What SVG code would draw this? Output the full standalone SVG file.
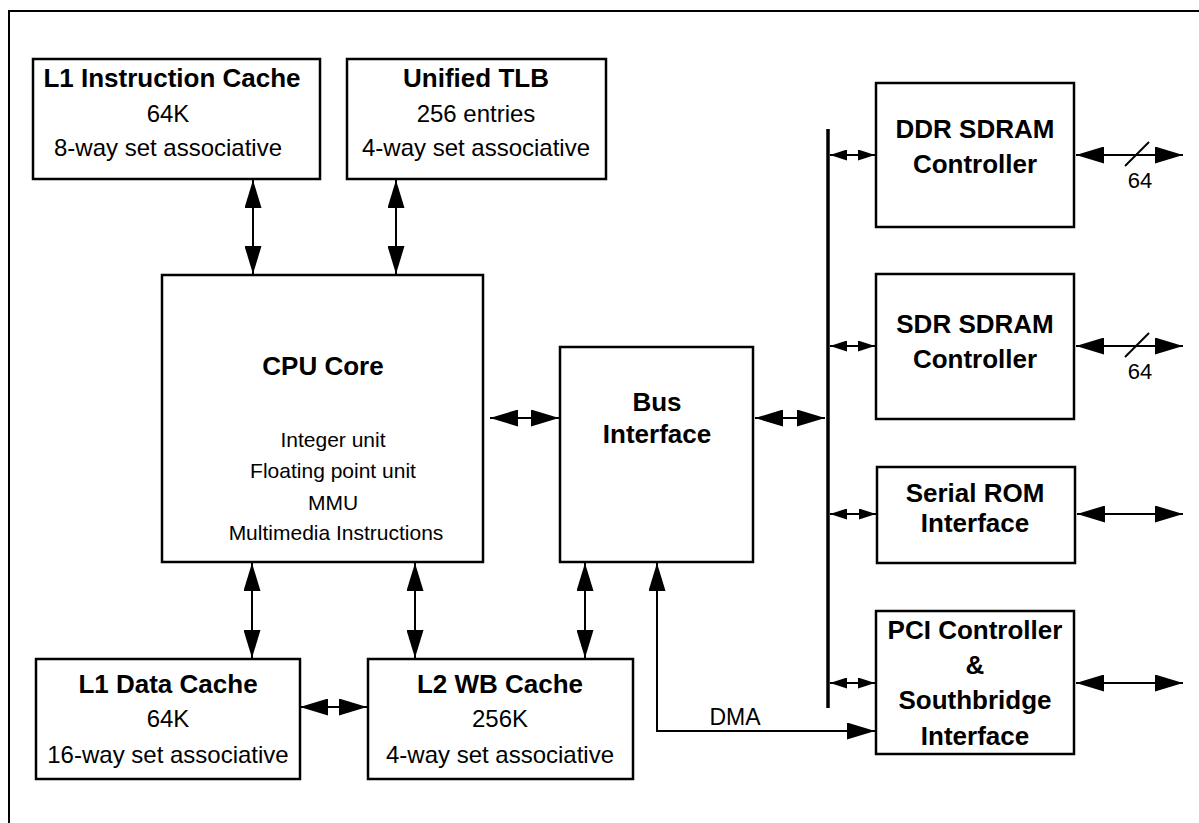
<svg xmlns="http://www.w3.org/2000/svg" width="1199" height="823" viewBox="0 0 1199 823">
<defs>
<style>
.box{fill:#fff;stroke:#000;stroke-width:2.5}
.t{font-family:"Liberation Sans",Arial,sans-serif;font-weight:bold;font-size:26px;text-anchor:middle;fill:#000}
.s{font-family:"Liberation Sans",Arial,sans-serif;font-size:24px;text-anchor:middle;fill:#000}
.c{font-family:"Liberation Sans",Arial,sans-serif;font-size:21px;text-anchor:middle;fill:#000}
.ln{fill:none;stroke:#000;stroke-width:2}
.big{marker-start:url(#ah);marker-end:url(#ah)}
.sm{marker-start:url(#as);marker-end:url(#as)}
</style>
<marker id="ah" viewBox="0 0 28 17" refX="28" refY="8.5" markerWidth="28" markerHeight="17" markerUnits="userSpaceOnUse" orient="auto-start-reverse"><path d="M0,0 L28,8.5 L0,17 z" fill="#000"/></marker>
<marker id="as" viewBox="0 0 17 11" refX="17" refY="5.5" markerWidth="17" markerHeight="11" markerUnits="userSpaceOnUse" orient="auto-start-reverse"><path d="M0,0 L17,5.5 L0,11 z" fill="#000"/></marker>
</defs>
<rect x="0" y="0" width="1199" height="823" fill="#fff"/>
<rect x="9" y="11" width="1200" height="830" fill="none" stroke="#000" stroke-width="2"/>

<g id="connectors">
<line class="ln big" x1="253" y1="180" x2="253" y2="274"/>
<line class="ln big" x1="396" y1="180" x2="396" y2="274"/>
<line class="ln big" x1="252" y1="563" x2="252" y2="658"/>
<line class="ln big" x1="415" y1="563" x2="415" y2="658"/>
<line class="ln big" x1="490" y1="418" x2="559" y2="418"/>
<line class="ln big" x1="755" y1="418" x2="825" y2="418"/>
<line class="ln big" x1="300" y1="707" x2="367" y2="707"/>
<line class="ln big" x1="585" y1="563" x2="585" y2="658"/>
<polyline class="ln" points="657,563 657,731 875,731" marker-start="url(#ah)" marker-end="url(#ah)"/>
<line x1="828" y1="129" x2="828" y2="708" stroke="#000" stroke-width="3.5"/>
<line class="ln sm" x1="830" y1="155" x2="875" y2="155"/>
<line class="ln sm" x1="830" y1="346" x2="875" y2="346"/>
<line class="ln sm" x1="830" y1="514" x2="876" y2="514"/>
<line class="ln sm" x1="830" y1="683" x2="875" y2="683"/>
<line class="ln big" x1="1076" y1="155" x2="1183" y2="155"/>
<line class="ln big" x1="1076" y1="346" x2="1183" y2="346"/>
<line class="ln big" x1="1077" y1="514" x2="1183" y2="514"/>
<line class="ln big" x1="1076" y1="683" x2="1183" y2="683"/>
<line class="ln" x1="1125" y1="166" x2="1149" y2="142" stroke-width="1.5"/>
<line class="ln" x1="1125" y1="357" x2="1149" y2="333" stroke-width="1.5"/>
<text class="s" x="1140" y="188" style="font-size:22px">64</text>
<text class="s" x="1140" y="379" style="font-size:22px">64</text>
<text class="s" x="735" y="725" style="font-size:23px">DMA</text>
</g>

<g id="l1ic">
<rect class="box" x="33" y="59" width="287" height="120"/>
<text class="t" x="172" y="87">L1 Instruction Cache</text>
<text class="s" x="168" y="122">64K</text>
<text class="s" x="168" y="156">8-way set associative</text>
</g>
<g id="tlb">
<rect class="box" x="347" y="59" width="259" height="120"/>
<text class="t" x="476" y="87">Unified TLB</text>
<text class="s" x="476" y="122">256 entries</text>
<text class="s" x="476" y="156">4-way set associative</text>
</g>
<g id="cpu">
<rect class="box" x="162" y="275" width="321" height="287"/>
<text class="t" x="323" y="375">CPU Core</text>
<text class="c" x="333" y="447">Integer unit</text>
<text class="c" x="333" y="478">Floating point unit</text>
<text class="c" x="333" y="510">MMU</text>
<text class="c" x="336" y="540">Multimedia Instructions</text>
</g>
<g id="bus">
<rect class="box" x="560" y="347" width="193" height="215"/>
<text class="t" x="657" y="411">Bus</text>
<text class="t" x="657" y="443">Interface</text>
</g>
<g id="l1dc">
<rect class="box" x="36" y="659" width="264" height="120"/>
<text class="t" x="168" y="693">L1 Data Cache</text>
<text class="s" x="168" y="727">64K</text>
<text class="s" x="168" y="763">16-way set associative</text>
</g>
<g id="l2">
<rect class="box" x="368" y="659" width="265" height="120"/>
<text class="t" x="500" y="693">L2 WB Cache</text>
<text class="s" x="500" y="727">256K</text>
<text class="s" x="500" y="763">4-way set associative</text>
</g>
<g id="ddr">
<rect class="box" x="876" y="83" width="198" height="144"/>
<text class="t" x="975" y="138">DDR SDRAM</text>
<text class="t" x="975" y="173">Controller</text>
</g>
<g id="sdr">
<rect class="box" x="876" y="274" width="198" height="145"/>
<text class="t" x="975" y="333">SDR SDRAM</text>
<text class="t" x="975" y="368">Controller</text>
</g>
<g id="srom">
<rect class="box" x="877" y="467" width="198" height="96"/>
<text class="t" x="975" y="502">Serial ROM</text>
<text class="t" x="975" y="532">Interface</text>
</g>
<g id="pci">
<rect class="box" x="876" y="611" width="198" height="143"/>
<text class="t" x="975" y="639">PCI Controller</text>
<text class="t" x="975" y="674">&amp;</text>
<text class="t" x="975" y="709">Southbridge</text>
<text class="t" x="975" y="745">Interface</text>
</g>
</svg>
